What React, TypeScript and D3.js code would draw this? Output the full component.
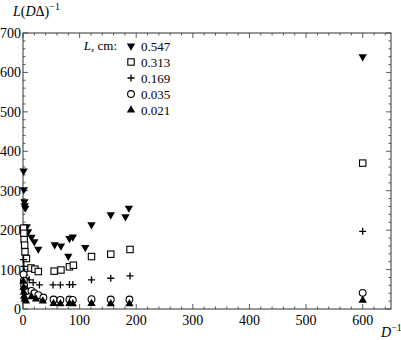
import React, { useEffect, useRef } from "react";
import * as d3 from "d3";

const WIDTH = 401;
const HEIGHT = 340;

// D^-1, L(D delta)^-1 pairs for each L (cm)
const series0547: [number, number][] = [
  [1, 350], [1.5, 303], [2.5, 272], [3, 262], [4, 256], [6.5, 209], [9, 196],
  [15, 182], [20, 171], [27, 152], [56, 163], [67, 160], [80, 134], [82, 179],
  [88, 183], [110, 156], [121, 214], [155, 239], [181, 234], [187, 256], [600, 640],
];
const series0313: [number, number][] = [
  [1, 205], [1.5, 192], [2, 176], [3, 162], [3.5, 145], [6, 128], [14, 104],
  [21, 101], [27, 95], [55, 96], [67, 99], [82, 107], [89, 111], [121, 133],
  [155, 139], [189, 151], [600, 370],
];
const series0169: [number, number][] = [
  [1, 125], [1.5, 108], [2, 95], [3, 86], [5, 78], [11, 74], [18, 67], [29, 61],
  [53, 61], [66, 61], [82, 62], [88, 62], [121, 74], [155, 78], [189, 84], [600, 197],
];
const series0035: [number, number][] = [
  [1, 88], [1.5, 72], [2, 60], [3, 50], [5, 45], [15, 46], [20, 40], [27, 35],
  [36, 29], [54, 24], [66, 23], [82, 24], [88, 23], [121, 25], [155, 24], [188, 24], [600, 41],
];
const series0021: [number, number][] = [
  [0.5, 70], [1, 55], [1.5, 42], [2, 32], [3, 25], [5, 20], [15, 31], [23, 25],
  [35, 20], [54, 14], [66, 13], [82, 14], [88, 13], [121, 14], [155, 13], [188, 13], [600, 22],
];

const legendLabels = ["0.547", "0.313", "0.169", "0.035", "0.021"];
const markerKinds = ["down", "square", "plus", "circle", "up"];
const allSeries = [series0547, series0313, series0169, series0035, series0021];

const xTicks = [0, 100, 200, 300, 400, 500, 600];
const yTicks = [0, 100, 200, 300, 400, 500, 600, 700];

const FONT = '"Liberation Serif", "Times New Roman", "DejaVu Serif", serif';

function drawMarker(g: any, kind: string, cx: number, cy: number) {
  if (kind === "down" || kind === "up") {
    g.append("path")
      .attr("d", d3.symbol().type(d3.symbolTriangle).size(30)())
      .attr("transform", `translate(${cx},${cy}) rotate(${kind === "down" ? 180 : 0})`)
      .attr("fill", "#000");
  } else if (kind === "square") {
    g.append("rect")
      .attr("x", cx - 3.2)
      .attr("y", cy - 3.2)
      .attr("width", 6.4)
      .attr("height", 6.4)
      .attr("fill", "#fff")
      .attr("stroke", "#000")
      .attr("stroke-width", 1.1);
  } else if (kind === "plus") {
    g.append("path")
      .attr("d", `M${cx - 3.5},${cy}H${cx + 3.5}M${cx},${cy - 3.5}V${cy + 3.5}`)
      .attr("stroke", "#000")
      .attr("stroke-width", 1.3);
  } else {
    g.append("circle")
      .attr("cx", cx)
      .attr("cy", cy)
      .attr("r", 3.4)
      .attr("fill", "#fff")
      .attr("stroke", "#000")
      .attr("stroke-width", 1.1);
  }
}

export default function App() {
  const ref = useRef<SVGSVGElement>(null);

  useEffect(() => {
    const svg = d3.select(ref.current);
    svg.selectAll("*").remove();

    const x = d3.scaleLinear().domain([0, 650]).range([23, 391]);
    const y = d3.scaleLinear().domain([0, 700]).range([309, 33]);

    // frame
    svg.append("rect")
      .attr("x", x(0)).attr("y", y(700))
      .attr("width", x(650) - x(0)).attr("height", y(0) - y(700))
      .attr("fill", "none").attr("stroke", "#333").attr("stroke-width", 1);

    // ticks, inward on all four sides
    const ticks = svg.append("g").attr("stroke", "#333").attr("stroke-width", 0.8);
    d3.range(0, 651, 20).forEach((v) => {
      const len = v % 100 === 0 ? 5 : 2.5;
      ticks.append("line").attr("x1", x(v)).attr("x2", x(v)).attr("y1", y(0)).attr("y2", y(0) - len);
      ticks.append("line").attr("x1", x(v)).attr("x2", x(v)).attr("y1", y(700)).attr("y2", y(700) + len);
    });
    d3.range(0, 701, 20).forEach((v) => {
      const len = v % 100 === 0 ? 5 : 2.5;
      ticks.append("line").attr("y1", y(v)).attr("y2", y(v)).attr("x1", x(0)).attr("x2", x(0) + len);
      ticks.append("line").attr("y1", y(v)).attr("y2", y(v)).attr("x1", x(650)).attr("x2", x(650) - len);
    });

    svg.append("g").selectAll("text").data(xTicks).enter().append("text")
      .attr("x", (d) => x(d)).attr("y", 325)
      .attr("text-anchor", "middle").style("font-family", FONT).style("font-size", "14px")
      .text((d) => d);
    svg.append("g").selectAll("text").data(yTicks).enter().append("text")
      .attr("x", 21).attr("y", (d) => y(d) + 5)
      .attr("text-anchor", "end").style("font-family", FONT).style("font-size", "14px")
      .text((d) => d);

    // axis titles
    const yt = svg.append("text").attr("x", 13).attr("y", 16)
      .style("font-family", FONT).style("font-size", "14px");
    yt.append("tspan").attr("font-style", "italic").text("L");
    yt.append("tspan").text("(");
    yt.append("tspan").attr("font-style", "italic").text("D");
    yt.append("tspan").text("Δ)");
    yt.append("tspan").style("font-size", "10px").attr("dy", -6).text("−1");

    const xt = svg.append("text").attr("x", 381).attr("y", 337)
      .style("font-family", FONT).style("font-size", "14px");
    xt.append("tspan").attr("font-style", "italic").text("D");
    xt.append("tspan").style("font-size", "10px").attr("dy", -6).text("−1");

    // points
    const pts = svg.append("g");
    allSeries.forEach((s, i) => {
      s.forEach(([dx, dy]) => drawMarker(pts, markerKinds[i], x(dx), y(dy)));
    });

    // legend
    const lg = svg.append("g");
    const lt = lg.append("text").attr("x", 117).attr("y", 50)
      .attr("text-anchor", "end").style("font-family", FONT).style("font-size", "13px");
    lt.append("tspan").attr("font-style", "italic").text("L");
    lt.append("tspan").text(", cm:");
    legendLabels.forEach((label, i) => {
      const cy = 46 + i * 16;
      drawMarker(lg, markerKinds[i], 131, cy);
      lg.append("text").attr("x", 141).attr("y", cy + 4.5)
        .style("font-family", FONT).style("font-size", "13px").text(label);
    });
  }, []);

  return (
    <div style={{ position: "absolute", left: 0, top: 0 }}>
      <svg ref={ref} width={WIDTH} height={HEIGHT} style={{ display: "block", background: "#fff" }} />
    </div>
  );
}
